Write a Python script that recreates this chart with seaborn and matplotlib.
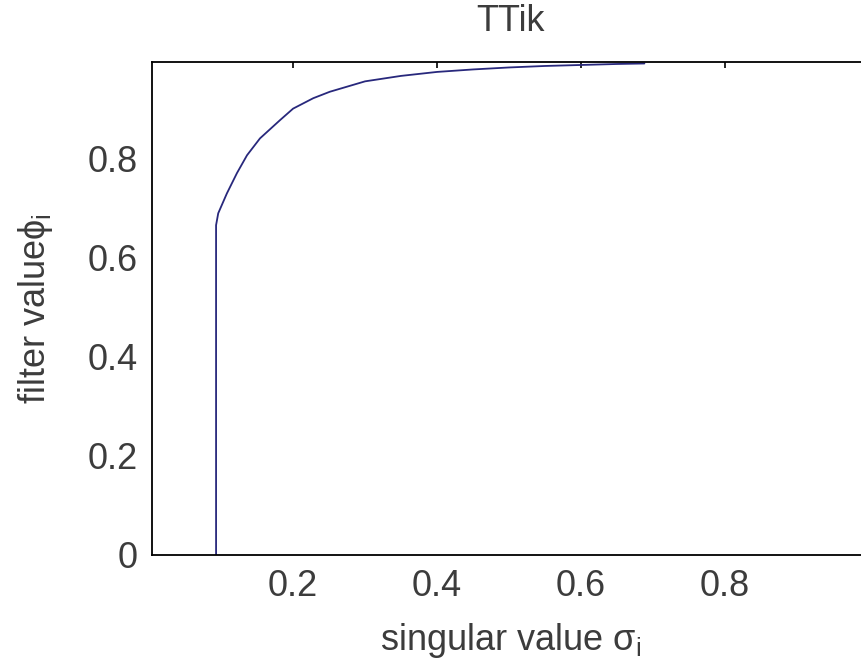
import matplotlib
matplotlib.use("Agg")
import matplotlib.pyplot as plt
import seaborn as sns
import pandas as pd

# Filter factors of the truncated Tikhonov (TTik) method
sigma = [0.093, 0.093, 0.096, 0.108, 0.122, 0.136, 0.154, 0.182, 0.200, 0.228,
         0.251, 0.300, 0.350, 0.400, 0.450, 0.500, 0.550, 0.600, 0.650, 0.688]
phi = [0.000, 0.665, 0.689, 0.729, 0.770, 0.806, 0.840, 0.877, 0.900, 0.921,
       0.934, 0.955, 0.966, 0.974, 0.979, 0.983, 0.986, 0.988, 0.990, 0.991]

x_ticks = [0.2, 0.4, 0.6, 0.8]
x_tick_labels = ["0.2", "0.4", "0.6", "0.8"]
y_ticks = [0, 0.2, 0.4, 0.6, 0.8]
y_tick_labels = ["0", "0.2", "0.4", "0.6", "0.8"]

df = pd.DataFrame({"sigma": sigma, "phi": phi})

txt = "#3c3c3c"

sns.set_style("white")
plt.rcParams["font.family"] = ["Liberation Sans", "DejaVu Sans"]
plt.rcParams["mathtext.fontset"] = "custom"
plt.rcParams["mathtext.rm"] = "Liberation Sans"
plt.rcParams["mathtext.it"] = "Liberation Sans"
plt.rcParams["mathtext.fallback"] = "stixsans"
plt.rcParams["text.color"] = txt

fig = plt.figure(figsize=(8.61, 6.70), dpi=100)
ax = fig.add_axes([152 / 861, 1 - 555 / 670, (869 - 152) / 861, (555 - 62) / 670])

sns.lineplot(data=df, x="sigma", y="phi", sort=False, estimator=None,
             color="#28287c", linewidth=1.3, ax=ax)

ax.set_xlim(0.004, 1.0)
ax.set_ylim(0, 0.994)
ax.set_xticks(x_ticks)
ax.set_xticklabels(x_tick_labels)
ax.set_yticks(y_ticks)
ax.set_yticklabels(y_tick_labels)

fs = 26
ax.tick_params(direction="in", length=4, width=1.2, colors="black",
               labelcolor=txt, top=True, right=True, labelsize=fs, pad=10)
for s in ax.spines.values():
    s.set_visible(True)
    s.set_color("black")
    s.set_linewidth(1.3)

ax.set_title("TTik", fontsize=fs, pad=22, color=txt)
ax.set_xlabel(r"singular value $\sigma_{\mathrm{i}}$", fontsize=fs, labelpad=12,
              color=txt)
ax.set_ylabel(r"filter value$\phi_{\mathrm{i}}$", fontsize=fs, labelpad=24,
              color=txt)

fig.savefig("out.png", dpi=100, facecolor="white")
